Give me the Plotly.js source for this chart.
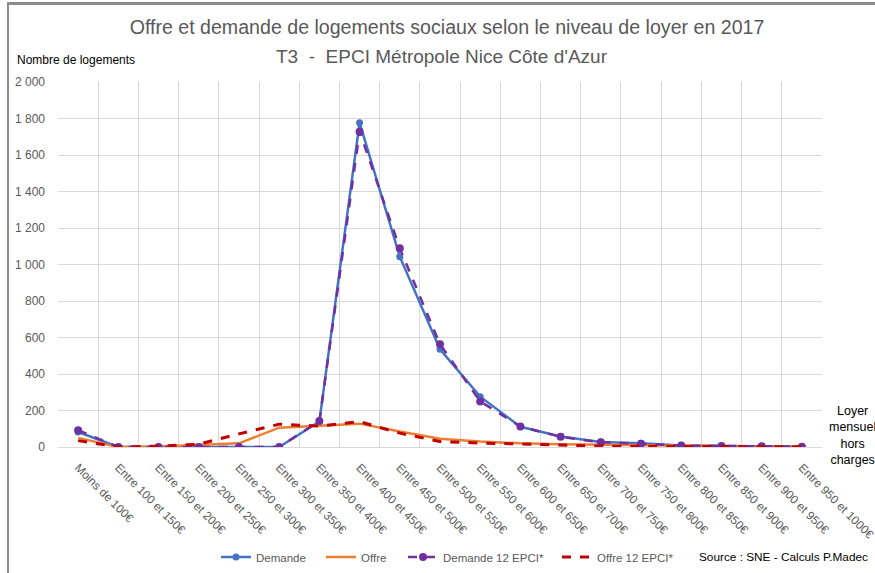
<!DOCTYPE html>
<html>
<head>
<meta charset="utf-8">
<script src="https://cdn.plot.ly/plotly-3.0.1.min.js"></script>
<style>
html,body{margin:0;padding:0;background:#fff;}
#wrap{position:relative;width:875px;height:573px;}
#chart{position:absolute;left:0;top:0;width:875px;height:573px;}
#topline{position:absolute;left:8px;top:2px;width:867px;height:3px;background:#8c8c8c;}
#leftline{position:absolute;left:7px;top:2px;width:2px;height:571px;background:#8c8c8c;}
</style>
</head>
<body>
<div id="wrap">
<div id="chart"></div>
<div id="topline"></div>
<div id="leftline"></div>
</div>
<script>
const categories = ["Moins de 100€","Entre 100 et 150€","Entre 150 et 200€","Entre 200 et 250€","Entre 250 et 300€","Entre 300 et 350€","Entre 350 et 400€","Entre 400 et 450€","Entre 450 et 500€","Entre 500 et 550€","Entre 550 et 600€","Entre 600 et 650€","Entre 650 et 700€","Entre 700 et 750€","Entre 750 et 800€","Entre 800 et 850€","Entre 850 et 900€","Entre 900 et 950€","Entre 950 et 1000€"];
const demande   = [82, 0, 0, 0, 0, 0, 140, 1777, 1043, 535, 276, 111, 58, 28, 20, 8, 6, 4, 2];
const offre     = [50, 0, 3, 10, 20, 106, 115, 128, 85, 45, 30, 20, 15, 12, 10, 6, 5, 3, 2];
const demande12 = [92, 0, 0, 0, 0, 0, 142, 1728, 1089, 563, 250, 112, 56, 26, 18, 8, 6, 4, 2];
const offre12   = [35, 0, 5, 15, 72, 125, 115, 139, 76, 30, 22, 15, 8, 5, 4, 3, 2, 2, 1];
const yTicks = [0,200,400,600,800,1000,1200,1400,1600,1800,2000];

const FONT = "Liberation Sans, Arial, sans-serif";
const GREY = "#595959";
const W = 875, H = 573, L = 58, R = 53, T = 82, B = 126;
const PW = W - L - R, PH = H - T - B;
const px = v => (v - L) / PW;        // pixel x -> paper x
const py = v => (H - B - v) / PH;    // pixel y -> paper y
const legY = 1 - 557 / H;

const traces = [
  {x: categories, y: demande, name: "Demande", type: "scatter", mode: "lines+markers", legend: "legend",
   line: {color: "#4472C4", width: 2.5}, marker: {color: "#4472C4", size: 7}},
  {x: categories, y: offre, name: "Offre", type: "scatter", mode: "lines", legend: "legend2",
   line: {color: "#ED7D31", width: 2.5}},
  {x: categories, y: demande12, name: "Demande 12 EPCI*", type: "scatter", mode: "lines+markers", legend: "legend3",
   line: {color: "#7030A0", width: 2.5, dash: "dash"}, marker: {color: "#7030A0", size: 8}},
  {x: categories, y: offre12, name: "Offre 12 EPCI*", type: "scatter", mode: "lines", legend: "legend4",
   line: {color: "#C00000", width: 3, dash: "dash"}}
];

function leg(xpix) {
  return {orientation: "h", xref: "paper", x: px(xpix), xanchor: "left",
          yref: "container", y: legY, yanchor: "middle",
          font: {family: FONT, size: 11.5, color: GREY}, bgcolor: "rgba(0,0,0,0)",
          itemwidth: 30};
}

const layout = {
  width: W, height: H,
  margin: {l: L, r: R, t: T, b: B},
  paper_bgcolor: "#fff", plot_bgcolor: "#fff",
  separators: ", ",
  font: {family: FONT, color: GREY, size: 12},
  title: {text: "Offre et demande de logements sociaux selon le niveau de loyer en 2017",
          font: {family: FONT, size: 19.6, color: GREY}, x: px(447), xanchor: "center", xref: "paper",
          y: 1 - 27/H, yanchor: "middle", yref: "container"},
  showlegend: true,
  legend: leg(216), legend2: leg(321), legend3: leg(403), legend4: leg(557),
  xaxis: {type: "category", tickson: "boundaries", range: [-0.5, 18.5],
          showgrid: true, gridcolor: "#d9d9d9", gridwidth: 1,
          showline: true, linecolor: "#d9d9d9", linewidth: 1,
          ticks: "", tickangle: 45, ticklabelstandoff: 8,
          tickfont: {family: FONT, size: 11.8, color: GREY}, fixedrange: true, automargin: false},
  yaxis: {range: [0, 2000], tickvals: yTicks, tickformat: ",d",
          showgrid: true, gridcolor: "#d9d9d9", gridwidth: 1,
          zeroline: false, showline: false, ticks: "", ticklabelstandoff: 12,
          tickfont: {family: FONT, size: 12, color: GREY}, fixedrange: true, automargin: false},
  annotations: [
    {text: "T3  -  EPCI Métropole Nice Côte d'Azur", xref: "paper", yref: "paper",
     x: px(442), y: py(57), xanchor: "center", yanchor: "middle", showarrow: false,
     font: {family: FONT, size: 19, color: GREY}},
    {text: "Nombre de logements", xref: "paper", yref: "paper",
     x: px(15), y: py(60), xanchor: "left", yanchor: "middle", showarrow: false,
     font: {family: FONT, size: 12, color: "#000"}},
    {text: "Loyer<br>mensuel<br>hors<br>charges", xref: "paper", yref: "paper",
     x: px(852), y: py(435), xanchor: "center", yanchor: "middle", align: "center",
     showarrow: false, font: {family: FONT, size: 12.5, color: "#000"}},
    {text: "Source : SNE - Calculs P.Madec", xref: "paper", yref: "paper",
     x: px(697), y: py(557), xanchor: "left", yanchor: "middle", showarrow: false,
     font: {family: FONT, size: 11.8, color: "#000"}}
  ]
};

Plotly.newPlot("chart", traces, layout, {displayModeBar: false, staticPlot: true});
</script>
</body>
</html>
